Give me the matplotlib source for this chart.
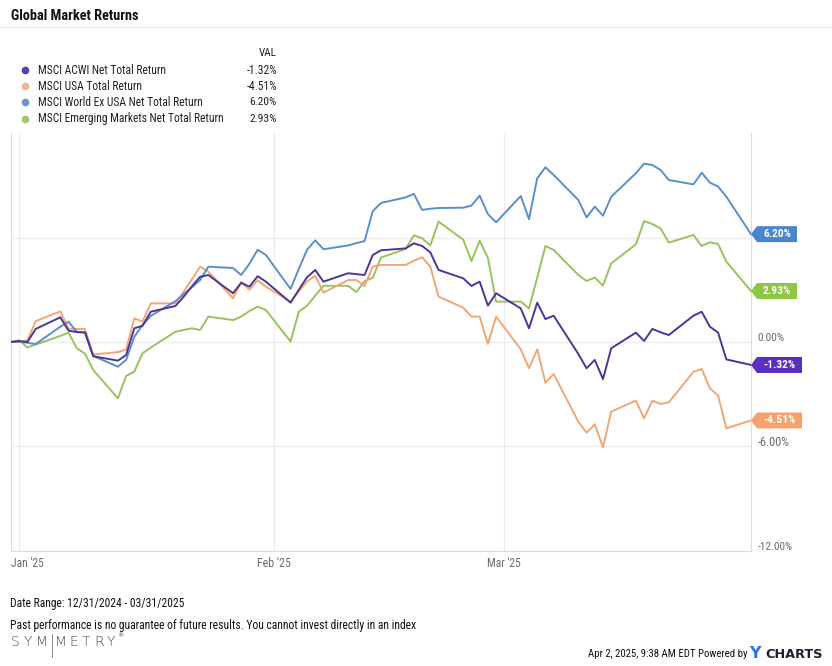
import datetime as dt
import glob
import os
import matplotlib
matplotlib.use("Agg")
import matplotlib.pyplot as plt
from matplotlib.patches import Polygon
from matplotlib.lines import Line2D
from matplotlib import font_manager

# ---------------- data ----------------
jan_days = [1, 2, 3, 6, 7, 8, 9, 10, 13, 14, 15, 16, 17, 20, 21, 22, 23, 24, 27, 28, 29, 30, 31]
feb_days = [3, 4, 5, 6, 7, 10, 11, 12, 13, 14, 17, 18, 19, 20, 21, 24, 25, 26, 27, 28]
mar_days = [3, 4, 5, 6, 7, 10, 11, 12, 13, 14, 17, 18, 19, 20, 21, 24, 25, 26, 27, 28, 31]
dates = ([dt.date(2024, 12, 31)] + [dt.date(2025, 1, d) for d in jan_days]
         + [dt.date(2025, 2, d) for d in feb_days] + [dt.date(2025, 3, d) for d in mar_days])

acwi = [0.00, 0.05, 0.00, 0.75, 1.42, 0.65, 0.57, 0.54, -0.82, -1.07, -0.75, 0.79, 0.93, 1.74,
        2.07, 2.60, 3.20, 3.75, 3.85, 2.80, 3.40, 3.18, 3.78, 3.47,
        2.26, 3.00, 3.72, 4.14, 3.47, 3.95, 3.90, 3.85, 5.00, 5.27, 5.38, 5.67, 5.52, 5.15,
        4.14, 3.66, 3.22, 3.47, 2.09, 2.80,
        1.93, 0.79, 2.26, 1.32, 1.51, -0.69, -1.51, -1.03, -2.13, -0.36, 0.54, 0.06, 0.75,
        0.56, 0.40, 1.51, 1.74, 0.88, 0.54, -1.00, -1.32]
usa = [0.00, 0.00, 0.10, 1.20, 1.76, 0.77, 0.75, 0.75, -0.72, -0.58, -0.43, 1.36, 1.17, 2.22,
       2.22, 2.90, 3.60, 4.33, 4.04, 2.51, 3.45, 3.00, 3.55, 3.18,
       2.32, 2.90, 3.47, 3.81, 2.84, 3.56, 3.56, 3.22, 4.33, 4.43, 4.43, 4.67, 4.87, 4.33,
       2.61, 1.97, 1.46, 1.46, -0.11, 1.46,
       -0.42, -1.51, -0.42, -2.34, -1.84, -4.58, -5.21, -4.73, -6.05, -4.00, -3.37, -4.39,
       -3.37, -3.56, -3.47, -1.72, -1.55, -2.66, -3.08, -4.96, -4.51]
world_ex_usa = [0.00, 0.05, -0.05, -0.12, 0.88, 1.17, 0.59, 0.56, -0.80, -1.42, -1.03, 0.30,
                0.98, 1.50, 2.35, 2.75, 3.15, 3.56, 4.33, 4.25, 3.85, 4.50, 5.30, 5.00,
                3.05, 4.20, 5.30, 5.84, 5.33, 5.55, 5.68, 5.80, 7.52, 7.99, 8.31, 8.51, 7.59,
                7.66, 7.70, 7.72, 7.84, 8.41, 7.35, 6.88,
                8.39, 7.06, 9.41, 10.04, 9.60, 8.16, 7.16, 7.78, 7.26, 8.35, 9.70, 10.25, 10.17,
                9.89, 9.31, 9.06, 9.73, 9.16, 8.93, 8.35, 6.20]
em = [0.00, 0.10, -0.31, -0.15, 0.35, 0.54, -0.36, -0.67, -1.61, -3.24, -1.95, -1.70, -0.65,
      -0.32, 0.59, 0.69, 0.79, 0.69, 1.46, 1.26, 1.46, 1.78, 2.03, 1.84,
      0.02, 1.74, 2.08, 2.66, 3.23, 3.23, 2.87, 3.50, 3.70, 4.85, 5.35, 6.13, 5.96, 5.55,
      6.92, 5.88, 4.65, 5.82, 4.84, 2.32,
      2.32, 1.93, 3.70, 5.52, 5.29, 3.85, 3.51, 3.70, 3.24, 4.52, 5.61, 6.95, 6.78, 6.53,
      5.71, 6.15, 5.52, 5.73, 5.63, 4.62, 2.93]

names = ["MSCI ACWI Net Total Return", "MSCI USA Total Return",
         "MSCI World Ex USA Net Total Return", "MSCI Emerging Markets Net Total Return"]
final_vals = ["-1.32%", "-4.51%", "6.20%", "2.93%"]
series = [acwi, usa, world_ex_usa, em]
line_colors = ["#4d3597", "#f2a676", "#5b8ecb", "#98c35c"]
tag_colors = ["#5b2fc2", "#f5a26c", "#4a86d0", "#8dc641"]
dot_colors = ["#5c3fa6", "#f0b48e", "#6c96cc", "#a3c46c"]
yticks = [-12, -6, 0]
ytick_labels = ["-12.00%", "-6.00%", "0.00%"]
xtick_dates = [dt.date(2025, 1, 1), dt.date(2025, 2, 1), dt.date(2025, 3, 1)]
xtick_labels = ["Jan '25", "Feb '25", "Mar '25"]


# ---------------- fonts: prefer a narrow / condensed family ----------------
def find_font(prefs, generic_words=None):
    files = []
    for root in ["/usr/share/fonts", "/usr/local/share/fonts", os.path.expanduser("~/.fonts"),
                 os.path.expanduser("~/.local/share/fonts")]:
        files += glob.glob(os.path.join(root, "**", "*.[ot]tf"), recursive=True)
    files += [f.fname for f in font_manager.fontManager.ttflist]
    base = {os.path.basename(f).lower(): f for f in files}
    picks = [base[p.lower()] for p in prefs if p.lower() in base]
    if not picks and generic_words:
        bad = ("bold", "italic", "oblique", "light", "extra", "semi", "black", "thin", "medium", "mono")
        for b, f in sorted(base.items()):
            if any(w in b for w in generic_words) and not any(x in b for x in bad):
                picks.append(f)
    for f in picks:
        try:
            font_manager.fontManager.addfont(f)
            return font_manager.FontProperties(fname=f).get_name()
        except Exception:
            pass
    return None


REG = (find_font(["LiberationSansNarrow-Regular.ttf", "RobotoCondensed-Regular.ttf",
                  "Roboto-Condensed.ttf", "DejaVuSansCondensed.ttf", "NotoSans-Condensed.ttf"],
                 generic_words=("condensed", "narrow"))
       or "Roboto")
plt.rcParams["font.family"] = [REG, "Roboto", "DejaVu Sans"]

W, H = 832, 666
fig = plt.figure(figsize=(W / 100, H / 100), dpi=100)
fig.patch.set_facecolor("white")
renderer = fig.canvas.get_renderer()


def fx(x):
    return x / W


def fy(y):
    return 1 - y / H


def fit(t, target_w, max_fs=None):
    """scale a text's font size so that its drawn width matches target_w pixels"""
    fs = t.get_fontsize()
    w = t.get_window_extent(renderer).width
    if w > 0:
        new = fs * target_w / w
        if max_fs:
            new = min(new, max_fs)
        t.set_fontsize(new)
    return t


ax_left, ax_right, ax_top, ax_bot = 11, 751, 133.2, 550.8
ax = fig.add_axes([fx(ax_left), fy(ax_bot), (ax_right - ax_left) / W, (ax_bot - ax_top) / H])
ax.set_xlim(dates[0], dates[-1])
ax.set_ylim(-12, 12)

ax.spines["top"].set_visible(False)
for sp in ["left", "right", "bottom"]:
    ax.spines[sp].set_color("#dcdcdc")
    ax.spines[sp].set_linewidth(0.8)

ax.set_yticks([-12, -6, 0, 6])
ax.set_yticklabels([])
ax.set_xticks(xtick_dates)
ax.set_xticklabels([])
ax.tick_params(length=0)
ax.grid(True, color="#ececec", linewidth=0.8)
ax.set_axisbelow(True)

order = [3, 1, 2, 0]
for i in order:
    ax.plot(dates, series[i], color=line_colors[i], linewidth=1.4, zorder=3 + (i == 0))

GRAY = "#6b6b6b"
ylab_w = {"0.00%": 27, "-6.00%": 32, "-12.00%": 35}
for v, lab in zip(yticks, ytick_labels):
    t = ax.annotate(lab, xy=(1, v), xycoords=("axes fraction", "data"), xytext=(4.5, 3),
                    textcoords="offset points", ha="left", va="center", fontsize=9, color=GRAY)
    fit(t, ylab_w[lab])

xlab_w = [33, 34, 34]
for i, (d, lab) in enumerate(zip(xtick_dates, xtick_labels)):
    if i == 0:
        t = ax.annotate(lab, xy=(0, 0), xycoords="axes fraction", xytext=(0, -9.5),
                        textcoords="offset points", ha="left", va="center", fontsize=9, color=GRAY)
    else:
        t = ax.annotate(lab, xy=(d, 0), xycoords=("data", "axes fraction"), xytext=(0, -9.5),
                        textcoords="offset points", ha="center", va="center", fontsize=9, color=GRAY)
    fit(t, xlab_w[i])

# end-value tags
fig.canvas.draw()
for i in range(4):
    xd, yd = ax.transData.transform((ax.get_xlim()[1], series[i][-1]))
    yc = H - yd
    txt = final_vals[i]
    x_end = ax_right + 6 + (40 if not txt.startswith("-") else 45)
    pts = [(ax_right, yc), (ax_right + 6, yc - 8), (x_end, yc - 8), (x_end, yc + 8), (ax_right + 6, yc + 8)]
    poly = Polygon([(fx(a), fy(b)) for a, b in pts], closed=True, transform=fig.transFigure,
                   facecolor=tag_colors[i], edgecolor="none", zorder=5)
    fig.add_artist(poly)
    t = fig.text(fx((ax_right + 6 + x_end) / 2), fy(yc), txt, ha="center", va="center",
                 color="white", fontsize=9, fontweight="bold", zorder=6)
    fit(t, 28 if not txt.startswith("-") else 32)

# title + separator
t = fig.text(fx(11), fy(16), "Global Market Returns", ha="left", va="center",
             fontsize=10, fontweight="bold", color="#111111")
fit(t, 127)
fig.add_artist(Line2D([0, 1], [fy(27), fy(27)], transform=fig.transFigure, color="#e8e8e8", lw=0.8))

# legend
t = fig.text(fx(277), fy(53), "VAL", ha="right", va="center", fontsize=9, color="#222222")
fit(t, 18)
row_y = [70, 86, 102.3, 118.7]
name_w = [128, None, None, 186]
leg_texts = []
for i in range(4):
    fig.add_artist(Line2D([fx(24.5)], [fy(row_y[i])], transform=fig.transFigure, marker="o",
                          markersize=4.5, color=dot_colors[i], linestyle="none"))
    leg_texts.append(fig.text(fx(37.5), fy(row_y[i]), names[i], ha="left", va="center",
                              fontsize=9, color="#222222"))
    t = fig.text(fx(277), fy(row_y[i]), final_vals[i], ha="right", va="center", fontsize=9,
                 color="#222222")
    fit(t, 30.5 if final_vals[i].startswith("-") else 27)
fit(leg_texts[3], 186)
for t in leg_texts[:3]:
    t.set_fontsize(leg_texts[3].get_fontsize())

# footer
t1 = fig.text(fx(10.5), fy(604), "Date Range: 12/31/2024 - 03/31/2025", ha="left", va="center",
              fontsize=9, color="#111111")
fit(t1, 175)
t2 = fig.text(fx(10.5), fy(625),
              "Past performance is no guarantee of future results. You cannot invest directly in an index",
              ha="left", va="center", fontsize=9, color="#111111")
fit(t2, 407)

sym_letters = list("SYMMETRY")
sym_cx = [15, 28, 42, 61, 74, 86, 99, 111]
for ch, x in zip(sym_letters, sym_cx):
    fig.text(fx(x), fy(642), ch, ha="center", va="center", fontsize=10, color="#4a4a4a",
             family=["DejaVu Sans"], fontweight="light")
fig.text(fx(117), fy(636), "®", ha="left", va="center", fontsize=4.5, color="#4a4a4a",
         family=["DejaVu Sans"])
fig.add_artist(Line2D([fx(51.5), fx(51.5)], [fy(634), fy(657)], transform=fig.transFigure,
                      color="#777777", lw=0.6))

t = fig.text(fx(747), fy(654), "Apr 2, 2025, 9:38 AM EDT Powered by", ha="right", va="center",
             fontsize=9, color="#111111")
fit(t, 159)
fig.text(fx(749), fy(653.5), "Y", ha="left", va="center", fontsize=11.5, fontweight="bold",
         color="#2a73e0", family=["DejaVu Sans"])
t = fig.text(fx(765.5), fy(654), "CHARTS", ha="left", va="center", fontsize=10, fontweight="bold",
             color="#1b1f2e", family=["DejaVu Sans"])
fit(t, 58)

fig.savefig("out.png", dpi=100, facecolor="white")
